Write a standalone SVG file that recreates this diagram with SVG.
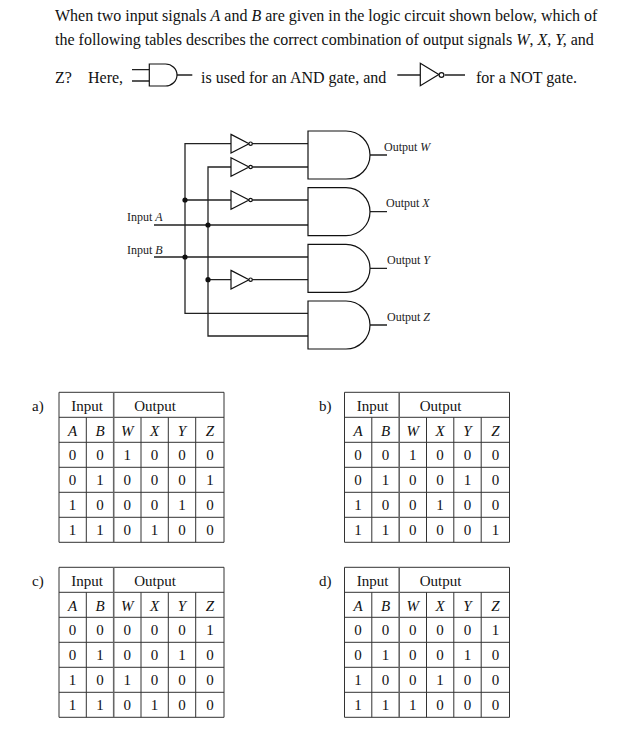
<svg xmlns="http://www.w3.org/2000/svg" width="637" height="748" viewBox="0 0 637 748">
<style>
text{font-family:"Liberation Serif","Times New Roman",serif;font-size:15px;fill:#111}
.q{font-size:16px}
.i{font-style:italic}
.c{text-anchor:middle}
.s{font-size:12px;fill:#222}
.w{fill:none;stroke:#222;stroke-width:1.3}
.g{fill:#fff;stroke:#111;stroke-width:1.2}
.d{fill:#111;stroke:none}
.t{fill:none;stroke:#333;stroke-width:1}
.t2{fill:none;stroke:#666;stroke-width:1.6}
</style>
<defs>
<path id="andg" class="g" d="M0 0H38A24 24 0 0 1 38 48H0Z"/>
<g id="notg"><path class="g" d="M0 -9.3L18 0L0 9.3Z"/><circle class="g" cx="19.6" cy="0" r="1.7"/></g>
<g id="grid">
<path class="t" d="M0 0H165V150H0ZM0 25H165M0 50H165M0 75H165M0 100H165M0 125H165M27.3 25V150M82 25V150M109.3 25V150M136.7 25V150"/>
<path class="t2" d="M54.7 0V150"/>
</g>
</defs>
<g id="question">
<text class="q" x="55" y="20.5">When two input signals <tspan class="i">A</tspan> and <tspan class="i">B</tspan> are given in the logic circuit shown below, which of</text>
<text class="q" x="55" y="44.5">the following tables describes the correct combination of output signals <tspan class="i">W</tspan>, <tspan class="i">X</tspan>, <tspan class="i">Y,</tspan> and</text>
<text class="q" x="55" y="82.5">Z?</text>
<text class="q" x="88" y="82.5">Here,</text>
<text class="q" x="201" y="82.5">is used for an AND gate, and</text>
<text class="q" x="476" y="82.5">for a NOT gate.</text>
<g id="legend-and">
<path class="w" d="M132 69.7H149.3M132 81H149.3M177 75H192.3"/>
<path class="g" d="M149.3 64H165.5A11.5 11 0 0 1 165.5 86H149.3Z"/>
</g>
<g id="legend-not">
<path class="w" d="M397.3 75H420.3M444.7 75H465"/>
<path class="g" d="M420.3 63.3L438.8 74.5L420.3 85.7Z"/>
<circle class="g" cx="441.5" cy="75" r="2.4"/>
</g>
</g>
<g id="connectors">
<path class="w" d="M154 225H308M154 257H308"/>
<path class="w" d="M185 257V143.7H231M185 257V313.3H308M185 200H231"/>
<path class="w" d="M208 225V167H231M208 225V336H308M208 279.7H231"/>
<path class="w" d="M251.5 143.7H308M251.5 167H308M251.5 200H308M251.5 279.7H308"/>
<path class="w" d="M370 155H387M370 211.7H387M370 268.3H387M370 325H387"/>
<circle class="d" cx="185" cy="200" r="2.6"/>
<circle class="d" cx="208" cy="225" r="2.6"/>
<circle class="d" cx="185" cy="257" r="2.6"/>
<circle class="d" cx="208" cy="279.7" r="2.6"/>
</g>
<g id="not1"><use href="#notg" x="231" y="143.7"/></g>
<g id="not2"><use href="#notg" x="231" y="167"/></g>
<g id="not3"><use href="#notg" x="231" y="200"/></g>
<g id="not4"><use href="#notg" x="231" y="279.7"/></g>
<g id="and-w"><use href="#andg" x="308" y="131"/><text class="s" x="384" y="151">Output <tspan class="i">W</tspan></text></g>
<g id="and-x"><use href="#andg" x="308" y="187.7"/><text class="s" x="386" y="207">Output <tspan class="i">X</tspan></text></g>
<g id="and-y"><use href="#andg" x="308" y="244.3"/><text class="s" x="387" y="264">Output <tspan class="i">Y</tspan></text></g>
<g id="and-z"><use href="#andg" x="308" y="301"/><text class="s" x="387" y="321">Output <tspan class="i">Z</tspan></text></g>
<g id="input-a"><text class="s" x="127" y="221">Input <tspan class="i">A</tspan></text></g>
<g id="input-b"><text class="s" x="127" y="254">Input <tspan class="i">B</tspan></text></g>

<g id="table-a">
<text x="32" y="411">a)</text>
<g transform="translate(59 392.3)"><use href="#grid"/>
<text class="c" x="28" y="19">Input</text><text class="c" x="96" y="19">Output</text>
<text class="c i" x="13.6" y="43.5">A</text><text class="c i" x="41" y="43.5">B</text><text class="c i" x="68.3" y="43.5">W</text><text class="c i" x="95.6" y="43.5">X</text><text class="c i" x="123" y="43.5">Y</text><text class="c i" x="151" y="43.5">Z</text>
<text class="c" x="13.6" y="68">0</text><text class="c" x="41" y="68">0</text><text class="c" x="68.3" y="68">1</text><text class="c" x="95.6" y="68">0</text><text class="c" x="123" y="68">0</text><text class="c" x="151" y="68">0</text>
<text class="c" x="13.6" y="93">0</text><text class="c" x="41" y="93">1</text><text class="c" x="68.3" y="93">0</text><text class="c" x="95.6" y="93">0</text><text class="c" x="123" y="93">0</text><text class="c" x="151" y="93">1</text>
<text class="c" x="13.6" y="118">1</text><text class="c" x="41" y="118">0</text><text class="c" x="68.3" y="118">0</text><text class="c" x="95.6" y="118">0</text><text class="c" x="123" y="118">1</text><text class="c" x="151" y="118">0</text>
<text class="c" x="13.6" y="143">1</text><text class="c" x="41" y="143">1</text><text class="c" x="68.3" y="143">0</text><text class="c" x="95.6" y="143">1</text><text class="c" x="123" y="143">0</text><text class="c" x="151" y="143">0</text>
</g></g>

<g id="table-b">
<text x="319" y="411">b)</text>
<g transform="translate(344.5 392.3)"><use href="#grid"/>
<text class="c" x="28" y="19">Input</text><text class="c" x="96" y="19">Output</text>
<text class="c i" x="13.6" y="43.5">A</text><text class="c i" x="41" y="43.5">B</text><text class="c i" x="68.3" y="43.5">W</text><text class="c i" x="95.6" y="43.5">X</text><text class="c i" x="123" y="43.5">Y</text><text class="c i" x="151" y="43.5">Z</text>
<text class="c" x="13.6" y="68">0</text><text class="c" x="41" y="68">0</text><text class="c" x="68.3" y="68">1</text><text class="c" x="95.6" y="68">0</text><text class="c" x="123" y="68">0</text><text class="c" x="151" y="68">0</text>
<text class="c" x="13.6" y="93">0</text><text class="c" x="41" y="93">1</text><text class="c" x="68.3" y="93">0</text><text class="c" x="95.6" y="93">0</text><text class="c" x="123" y="93">1</text><text class="c" x="151" y="93">0</text>
<text class="c" x="13.6" y="118">1</text><text class="c" x="41" y="118">0</text><text class="c" x="68.3" y="118">0</text><text class="c" x="95.6" y="118">1</text><text class="c" x="123" y="118">0</text><text class="c" x="151" y="118">0</text>
<text class="c" x="13.6" y="143">1</text><text class="c" x="41" y="143">1</text><text class="c" x="68.3" y="143">0</text><text class="c" x="95.6" y="143">0</text><text class="c" x="123" y="143">0</text><text class="c" x="151" y="143">1</text>
</g></g>

<g id="table-c">
<text x="32" y="586">c)</text>
<g transform="translate(59 567.3)"><use href="#grid"/>
<text class="c" x="28" y="19">Input</text><text class="c" x="96" y="19">Output</text>
<text class="c i" x="13.6" y="43.5">A</text><text class="c i" x="41" y="43.5">B</text><text class="c i" x="68.3" y="43.5">W</text><text class="c i" x="95.6" y="43.5">X</text><text class="c i" x="123" y="43.5">Y</text><text class="c i" x="151" y="43.5">Z</text>
<text class="c" x="13.6" y="68">0</text><text class="c" x="41" y="68">0</text><text class="c" x="68.3" y="68">0</text><text class="c" x="95.6" y="68">0</text><text class="c" x="123" y="68">0</text><text class="c" x="151" y="68">1</text>
<text class="c" x="13.6" y="93">0</text><text class="c" x="41" y="93">1</text><text class="c" x="68.3" y="93">0</text><text class="c" x="95.6" y="93">0</text><text class="c" x="123" y="93">1</text><text class="c" x="151" y="93">0</text>
<text class="c" x="13.6" y="118">1</text><text class="c" x="41" y="118">0</text><text class="c" x="68.3" y="118">1</text><text class="c" x="95.6" y="118">0</text><text class="c" x="123" y="118">0</text><text class="c" x="151" y="118">0</text>
<text class="c" x="13.6" y="143">1</text><text class="c" x="41" y="143">1</text><text class="c" x="68.3" y="143">0</text><text class="c" x="95.6" y="143">1</text><text class="c" x="123" y="143">0</text><text class="c" x="151" y="143">0</text>
</g></g>

<g id="table-d">
<text x="319" y="586">d)</text>
<g transform="translate(344.5 567.3)"><use href="#grid"/>
<text class="c" x="28" y="19">Input</text><text class="c" x="96" y="19">Output</text>
<text class="c i" x="13.6" y="43.5">A</text><text class="c i" x="41" y="43.5">B</text><text class="c i" x="68.3" y="43.5">W</text><text class="c i" x="95.6" y="43.5">X</text><text class="c i" x="123" y="43.5">Y</text><text class="c i" x="151" y="43.5">Z</text>
<text class="c" x="13.6" y="68">0</text><text class="c" x="41" y="68">0</text><text class="c" x="68.3" y="68">0</text><text class="c" x="95.6" y="68">0</text><text class="c" x="123" y="68">0</text><text class="c" x="151" y="68">1</text>
<text class="c" x="13.6" y="93">0</text><text class="c" x="41" y="93">1</text><text class="c" x="68.3" y="93">0</text><text class="c" x="95.6" y="93">0</text><text class="c" x="123" y="93">1</text><text class="c" x="151" y="93">0</text>
<text class="c" x="13.6" y="118">1</text><text class="c" x="41" y="118">0</text><text class="c" x="68.3" y="118">0</text><text class="c" x="95.6" y="118">1</text><text class="c" x="123" y="118">0</text><text class="c" x="151" y="118">0</text>
<text class="c" x="13.6" y="143">1</text><text class="c" x="41" y="143">1</text><text class="c" x="68.3" y="143">1</text><text class="c" x="95.6" y="143">0</text><text class="c" x="123" y="143">0</text><text class="c" x="151" y="143">0</text>
</g></g>
</svg>
